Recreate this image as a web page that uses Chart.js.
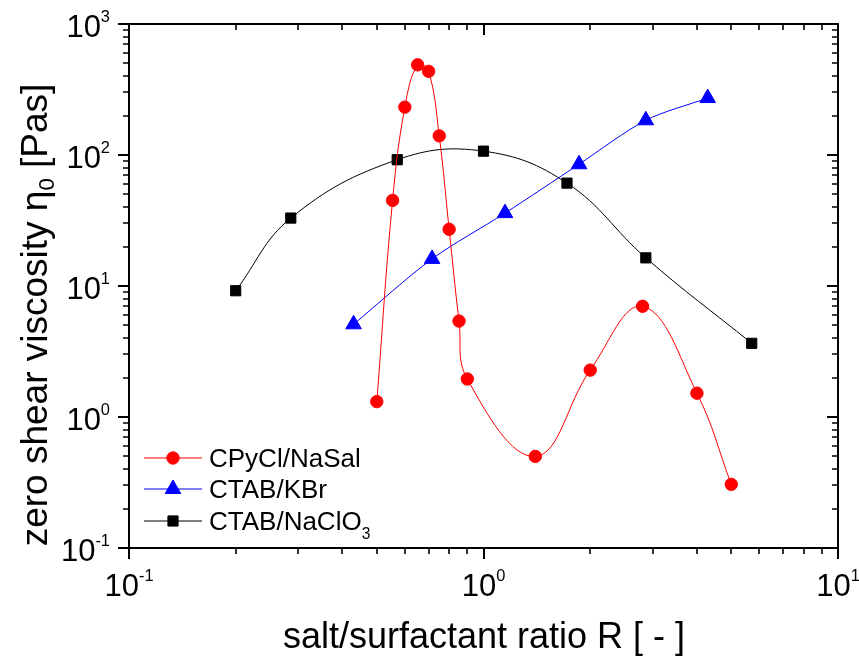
<!DOCTYPE html>
<html><head><meta charset="utf-8">
<script src="https://cdn.jsdelivr.net/npm/chart.js@4/dist/chart.umd.min.js"></script>
<style>html,body{margin:0;padding:0;background:#fff}canvas{display:block}</style>
</head><body>
<canvas id="c" width="859" height="656"></canvas>
<script>
// ---- data (log-log plot) ----
const seriesNames = ['CPyCl/NaSal', 'CTAB/KBr', 'CTAB/NaClO_{3}'];
const xNaSal = [0.50, 0.554, 0.60, 0.652, 0.70, 0.75, 0.80, 0.853, 0.90, 1.40, 2.0, 2.81, 4.0, 5.0];
const yNaSal = [1.31, 45, 232, 488, 435, 140, 27.1, 5.4, 1.95, 0.50, 2.28, 7.0, 1.52, 0.306];
const xKBr = [0.43, 0.716, 1.15, 1.86, 2.87, 4.29];
const yKBr = [5.1, 16.1, 36, 85, 184, 272];
const xNaClO3 = [0.20, 0.286, 0.571, 1.0, 1.72, 2.87, 5.71];
const yNaClO3 = [9.2, 33, 92, 107, 61, 16.4, 3.65];
const xTickExps = [-1, 0, 1];
const yTickExps = [-1, 0, 1, 2, 3];
const xTitle = 'salt/surfactant ratio R [ - ]';
const yTitle = 'zero shear viscosity η_{0} [Pas]';

const FONT = '"Liberation Sans", Arial, sans-serif';

function pts(xs, ys) { return xs.map((x, i) => ({ x: x, y: ys[i] })); }

function parseRich(t) {
  const parts = t.split(/(_\{[^}]*\}|\^\{[^}]*\})/).filter(s => s.length);
  return parts.map(p => {
    if (p.startsWith('_{')) return { t: p.slice(2, -1), k: 'sub' };
    if (p.startsWith('^{')) return { t: p.slice(2, -1), k: 'sup' };
    return { t: p, k: 'n' };
  });
}
function drawRich(ctx, text, x, y, size, align, o) {
  o = Object.assign({ small: 0.58, supShift: 0.5, subShift: 0.22 }, o || {});
  const segs = parseRich(text);
  let total = 0;
  segs.forEach(s => {
    s.size = s.k === 'n' ? size : size * o.small;
    ctx.font = s.size + 'px ' + FONT;
    s.w = ctx.measureText(s.t).width;
    total += s.w;
  });
  let cx = align === 'center' ? x - total / 2 : (align === 'right' ? x - total : x);
  ctx.textAlign = 'left';
  ctx.textBaseline = 'alphabetic';
  segs.forEach(s => {
    ctx.font = s.size + 'px ' + FONT;
    let dy = 0;
    if (s.k === 'sup') dy = -size * o.supShift;
    if (s.k === 'sub') dy = size * o.subShift;
    ctx.fillText(s.t, cx, y + dy);
    cx += s.w;
  });
}

const framePlugin = {
  id: 'frame',
  afterDatasetsDraw(chart) {
    const ctx = chart.ctx, a = chart.chartArea;
    const xs = chart.scales.x, ys = chart.scales.y;
    ctx.save();
    ctx.strokeStyle = '#000';
    ctx.fillStyle = '#000';
    ctx.lineWidth = 2;
    ctx.strokeRect(a.left, a.top, a.right - a.left, a.bottom - a.top);
    // x ticks
    for (let e = xTickExps[0]; e <= xTickExps[xTickExps.length - 1]; e++) {
      for (let m = 1; m <= 9; m++) {
        const v = m * Math.pow(10, e);
        if (v > xs.max * 1.0001) break;
        const px = Math.round(xs.getPixelForValue(v));
        const len = m === 1 ? 11 : 6;
        ctx.lineWidth = m === 1 ? 2 : 1.6;
        ctx.beginPath();
        ctx.moveTo(px, a.bottom); ctx.lineTo(px, a.bottom + len);
        ctx.moveTo(px, a.top); ctx.lineTo(px, a.top + len);
        ctx.stroke();
      }
    }
    // y ticks
    for (let e = yTickExps[0]; e <= yTickExps[yTickExps.length - 1]; e++) {
      for (let m = 1; m <= 9; m++) {
        const v = m * Math.pow(10, e);
        if (v > ys.max * 1.0001) break;
        const py = Math.round(ys.getPixelForValue(v));
        const len = m === 1 ? 11 : 6;
        ctx.lineWidth = m === 1 ? 2 : 1.6;
        ctx.beginPath();
        ctx.moveTo(a.left - len, py); ctx.lineTo(a.left, py);
        ctx.moveTo(a.right - len, py); ctx.lineTo(a.right, py);
        ctx.stroke();
      }
    }
    // tick labels
    xTickExps.forEach(e => {
      const px = xs.getPixelForValue(Math.pow(10, e));
      drawRich(ctx, '10^{' + e + '}', px, a.bottom + 48, 31, 'center', { small: 0.53, supShift: 0.5 });
    });
    yTickExps.forEach(e => {
      const py = ys.getPixelForValue(Math.pow(10, e));
      drawRich(ctx, '10^{' + e + '}', a.left - 19, py + 12.5, 31, 'right', { small: 0.53, supShift: 0.46 });
    });
    // axis titles
    drawRich(ctx, xTitle, 484, 648, 36, 'center');
    ctx.save();
    ctx.translate(47, 315);
    ctx.rotate(-Math.PI / 2);
    drawRich(ctx, yTitle, 0, 0, 37, 'center', { small: 0.6, subShift: 0.18 });
    ctx.restore();
    // legend
    const rows = [458, 489, 521];
    chart.data.datasets.forEach((ds, i) => {
      const y = rows[i];
      ctx.strokeStyle = ds.borderColor;
      ctx.lineWidth = 1.2;
      ctx.beginPath();
      ctx.moveTo(144, y); ctx.lineTo(202, y);
      ctx.stroke();
      ctx.fillStyle = ds.pointBackgroundColor;
      ctx.strokeStyle = ds.pointBorderColor;
      ctx.lineWidth = ds.pointBorderWidth;
      Chart.helpers.drawPoint(ctx, { pointStyle: ds.pointStyle, radius: ds.pointRadius, rotation: 0, borderWidth: ds.pointBorderWidth }, 173, y);
      ctx.fillStyle = '#000';
      drawRich(ctx, ds.label, 209, y + 9, 26, 'left', { small: 0.6, subShift: 0.36 });
    });
    ctx.restore();
  }
};

function mkSet(label, data, color, style, radius, tension) {
  return {
    label: label, data: data, showLine: true,
    borderColor: color, borderWidth: 1, backgroundColor: color,
    pointStyle: style, pointRadius: radius, pointHoverRadius: radius,
    pointBackgroundColor: color, pointBorderColor: color, pointBorderWidth: 1,
    tension: tension, cubicInterpolationMode: 'default'
  };
}

new Chart(document.getElementById('c'), {
  type: 'scatter',
  data: {
    datasets: [
      mkSet(seriesNames[0], pts(xNaSal, yNaSal), '#FF0000', 'circle', 6.2, 0.4),
      mkSet(seriesNames[1], pts(xKBr, yKBr), '#0000FF', 'triangle', 9, 0.3),
      mkSet(seriesNames[2], pts(xNaClO3, yNaClO3), '#000000', 'rect', 7.2, 0.4)
    ]
  },
  options: {
    responsive: false, animation: false, devicePixelRatio: 1,
    layout: { padding: { left: 129, right: 21, top: 24, bottom: 108 } },
    plugins: { legend: { display: false }, tooltip: { enabled: false } },
    scales: {
      x: { type: 'logarithmic', min: 0.1, max: 10, display: false },
      y: { type: 'logarithmic', min: 0.1, max: 1000, display: false }
    }
  },
  plugins: [framePlugin]
});
</script>
</body></html>
